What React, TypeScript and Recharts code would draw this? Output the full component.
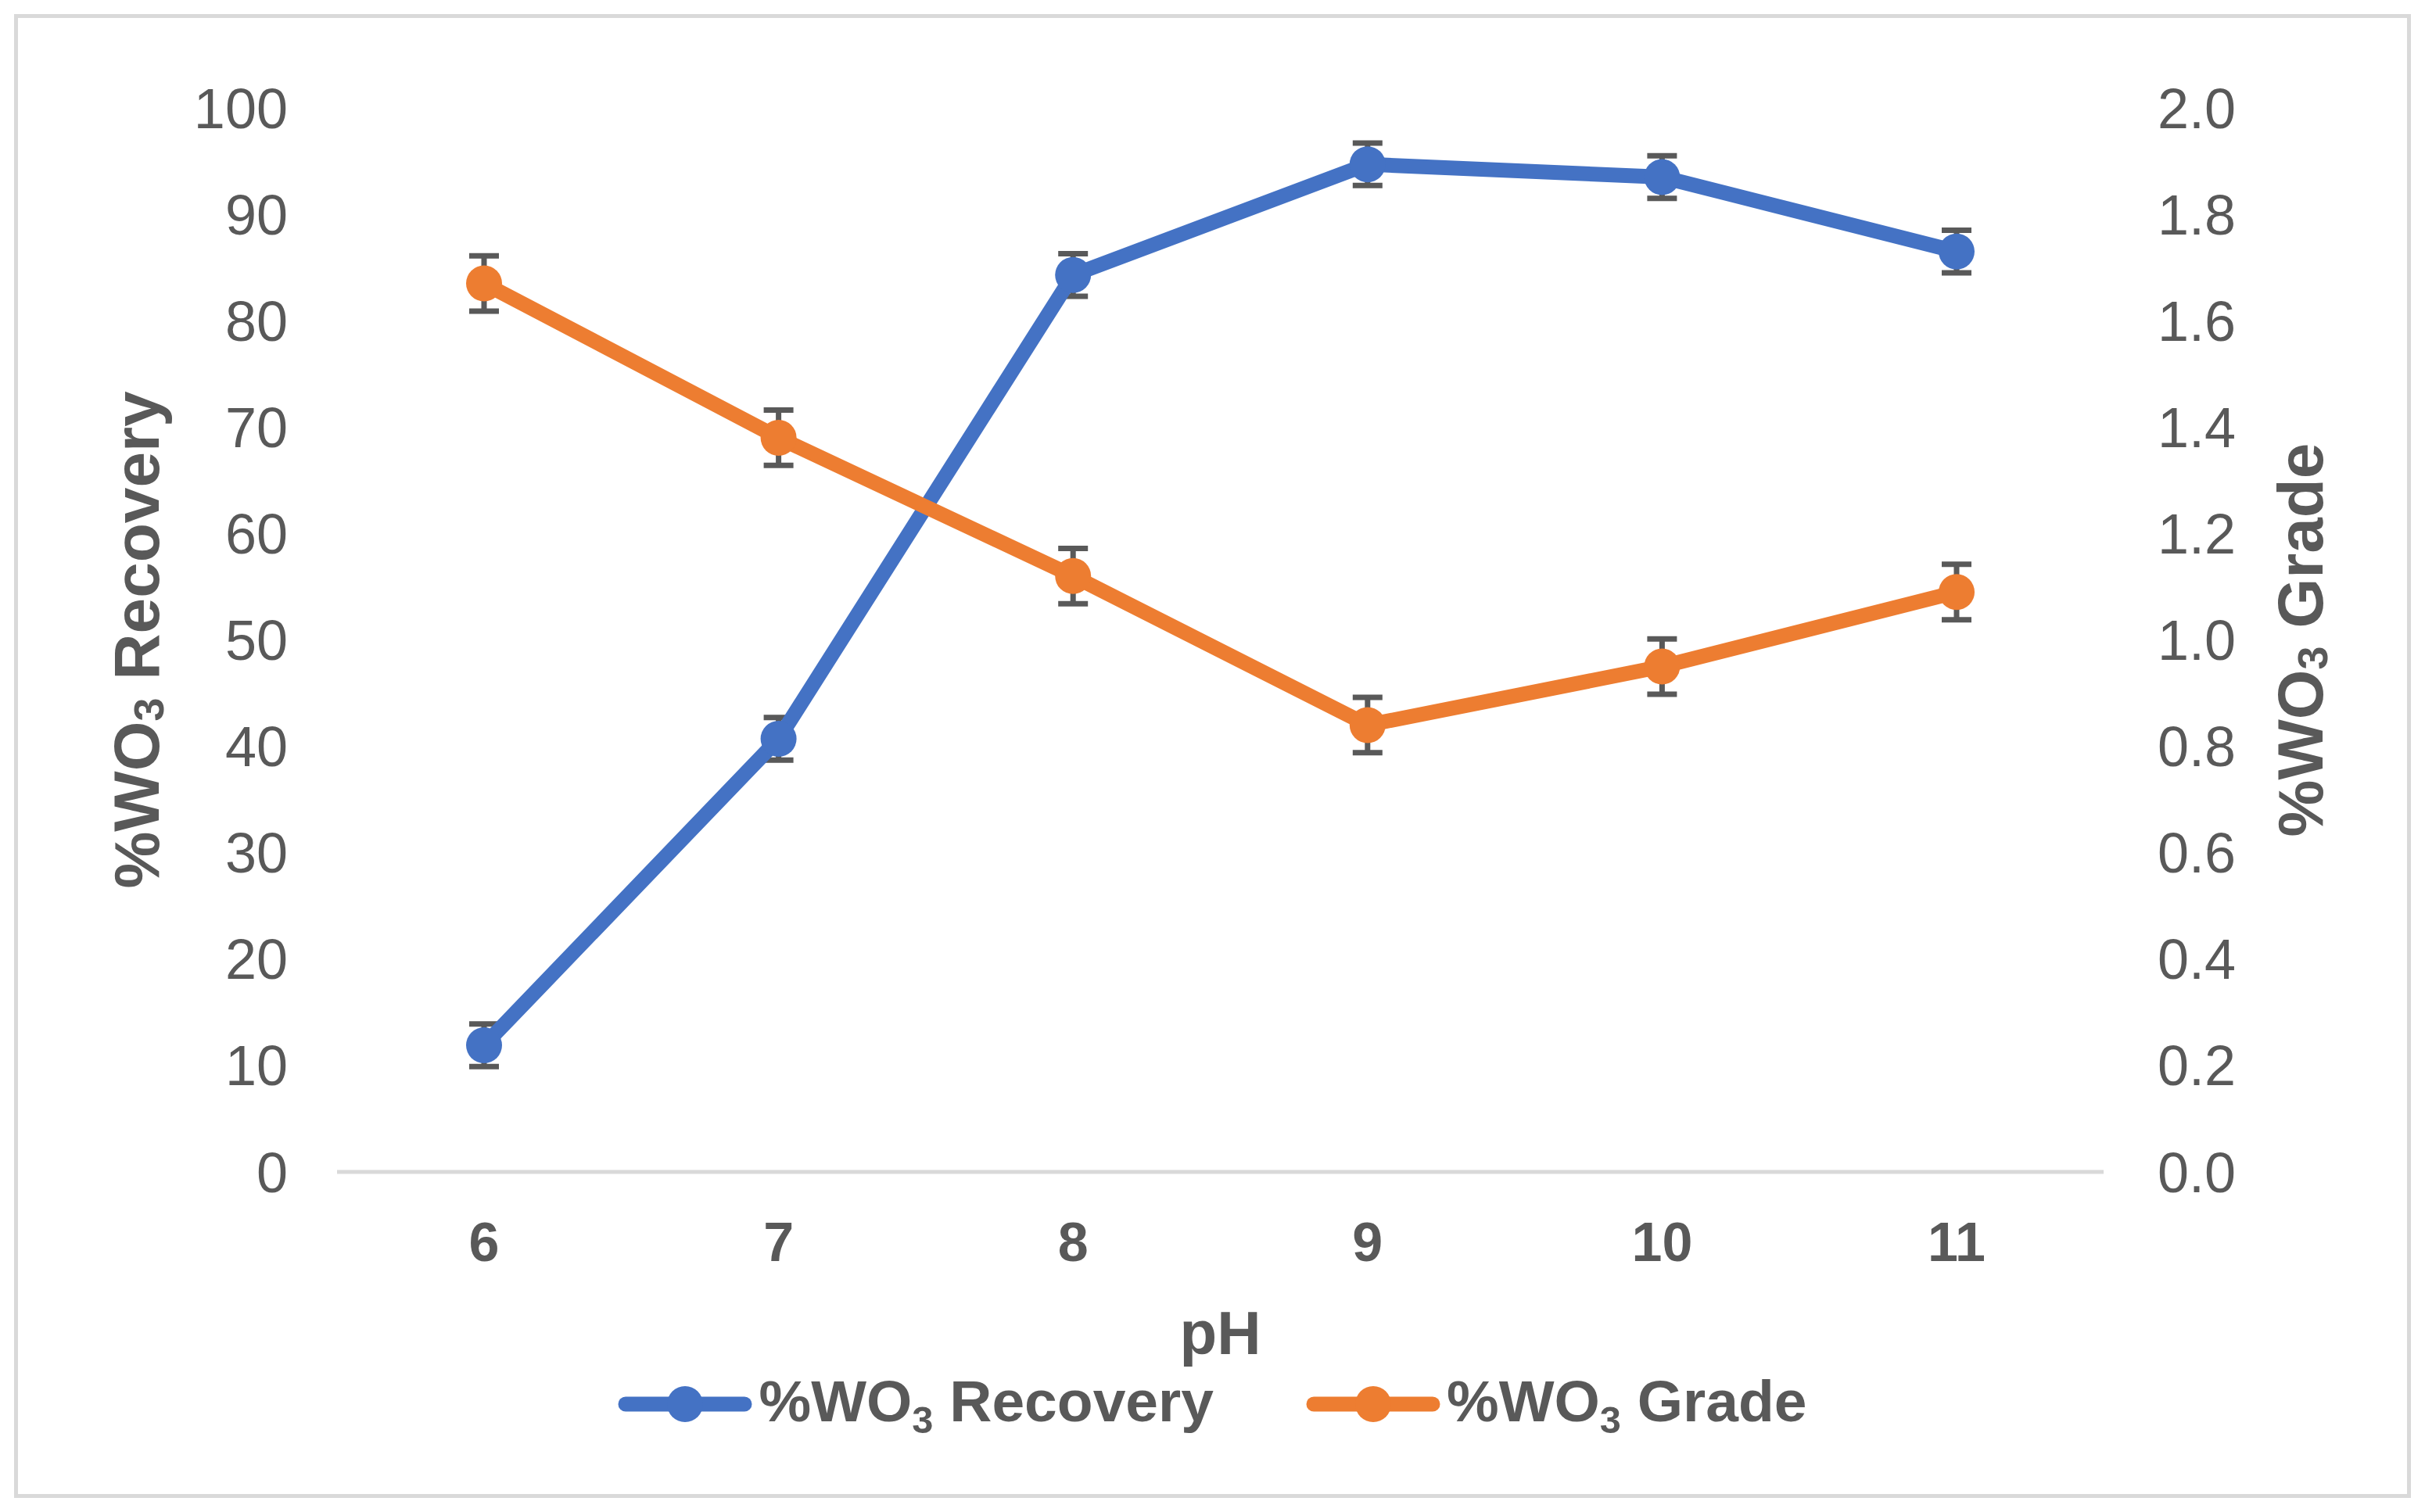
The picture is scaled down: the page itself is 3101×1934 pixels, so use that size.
import React from 'react';
import { LineChart, Line, XAxis, YAxis, ErrorBar, Legend, Label } from 'recharts';

const phLabels = ['6', '7', '8', '9', '10', '11'];
const recoveryValues = [11.9, 40.7, 84.3, 94.7, 93.5, 86.5];
const recoveryErrors = [2, 2, 2, 2, 2, 2];
const gradeValues = [1.67, 1.38, 1.12, 0.84, 0.95, 1.09];
const gradeErrors = [0.052, 0.052, 0.052, 0.052, 0.052, 0.052];
const recoveryTicks = [0, 10, 20, 30, 40, 50, 60, 70, 80, 90, 100];
const gradeTicks = [0, 0.2, 0.4, 0.6, 0.8, 1.0, 1.2, 1.4, 1.6, 1.8, 2.0];
const seriesNames = ['%WO3 Recovery', '%WO3 Grade'];

const data = phLabels.map((ph, i) => ({
  ph,
  recovery: recoveryValues[i],
  recoveryErr: recoveryErrors[i],
  grade: gradeValues[i],
  gradeErr: gradeErrors[i],
}));

const W = 3101;
const H = 1934;
const FONT = '"Liberation Sans", Arial, sans-serif';
const TEXT = '#595959';
const BLUE = '#4472C4';
const ORANGE = '#ED7D31';
const BORDER = '#D9D9D9';

// "%WO3 Recovery" -> %WO + subscript 3 + rest
function splitName(name: string) {
  const idx = name.indexOf('WO3');
  return { head: name.slice(0, idx + 2), tail: name.slice(idx + 3) };
}

function rotatedTitle(name: string, offsetX: number) {
  return (props: any) => {
    const vb = props.viewBox || {};
    const cx = vb.x + offsetX;
    const cy = vb.y + vb.height / 2;
    const { head, tail } = splitName(name);
    return (
      <text
        x={cx}
        y={cy}
        transform={`rotate(-90 ${cx} ${cy})`}
        textAnchor="middle"
        dominantBaseline="central"
        fontFamily={FONT}
        fontSize={82}
        fontWeight="bold"
        fill={TEXT}
      >
        {head}
        <tspan fontSize={54} dy={16}>3</tspan>
        <tspan dy={-16}>{tail}</tspan>
      </text>
    );
  };
}

const PhTitle = (props: any) => {
  const vb = props.viewBox || {};
  return (
    <text
      x={vb.x + vb.width / 2}
      y={vb.y + 206}
      textAnchor="middle"
      dominantBaseline="central"
      fontFamily={FONT}
      fontSize={78}
      fontWeight="bold"
      fill={TEXT}
    >
      pH
    </text>
  );
};

const renderLegend = (props: any) => {
  // keep the series order, the legend sorts by name otherwise
  const items = [...(props.payload || [])].sort(
    (a: any, b: any) => seriesNames.indexOf(a.value) - seriesNames.indexOf(b.value)
  );
  return (
    <div
      style={{
        display: 'flex',
        justifyContent: 'center',
        alignItems: 'center',
        height: 120,
        gap: 118,
        fontFamily: FONT,
        fontSize: 75,
        fontWeight: 'bold',
        color: TEXT,
      }}
    >
      {items.map((entry: any) => {
        const { head, tail } = splitName(String(entry.value));
        return (
          <div key={entry.value} style={{ display: 'flex', alignItems: 'center' }}>
            <svg width={172} height={52}>
              <line x1={10} y1={26} x2={162} y2={26} stroke={entry.color} strokeWidth={19} strokeLinecap="round" />
              <circle cx={86} cy={26} r={23} fill={entry.color} />
            </svg>
            <span style={{ marginLeft: 8, whiteSpace: 'nowrap' }}>
              {head}
              <sub style={{ fontSize: '0.65em', verticalAlign: '-0.3em' }}>3</sub>
              {tail}
            </span>
          </div>
        );
      })}
    </div>
  );
};

export default function App() {
  return (
    <div style={{ position: 'absolute', left: 0, top: 0, width: W, height: H, background: '#fff' }}>
      <div
        style={{
          position: 'absolute',
          left: 18,
          top: 18,
          width: W - 36,
          height: H - 36,
          border: `5px solid ${BORDER}`,
          boxSizing: 'border-box',
        }}
      />
      <div style={{ position: 'absolute', left: 0, top: 0 }}>
        <LineChart width={W} height={H} data={data} margin={{ top: 138, right: 0, left: 0, bottom: 78 }}>
          <XAxis
            dataKey="ph"
            height={237}
            padding={{ left: 188, right: 188 }}
            axisLine={{ stroke: BORDER, strokeWidth: 5 }}
            tickLine={false}
            tickMargin={58}
            tick={{ fontSize: 70, fontWeight: 'bold', fill: TEXT, fontFamily: FONT }}
          >
            <Label content={PhTitle} />
          </XAxis>
          <YAxis
            yAxisId="left"
            domain={[0, 100]}
            ticks={recoveryTicks}
            width={431}
            axisLine={false}
            tickLine={false}
            tickMargin={57}
            tick={{ fontSize: 72, fill: TEXT, fontFamily: FONT }}
          >
            <Label content={rotatedTitle(seriesNames[0], 174)} />
          </YAxis>
          <YAxis
            yAxisId="right"
            orientation="right"
            domain={[0, 2]}
            ticks={gradeTicks}
            width={411}
            axisLine={false}
            tickLine={false}
            tickMargin={63}
            tickFormatter={(v: number) => v.toFixed(1)}
            tick={{ fontSize: 72, fill: TEXT, fontFamily: FONT }}
          >
            <Label content={rotatedTitle(seriesNames[1], 251)} />
          </YAxis>
          <Legend verticalAlign="bottom" align="center" content={renderLegend} />
          <Line
            yAxisId="left"
            type="linear"
            dataKey="recovery"
            name={seriesNames[0]}
            stroke={BLUE}
            strokeWidth={19}
            dot={{ r: 23, fill: BLUE, stroke: BLUE, strokeWidth: 0 }}
            activeDot={false}
            isAnimationActive={false}
          >
            <ErrorBar dataKey="recoveryErr" direction="y" width={19} stroke={TEXT} strokeWidth={7} />
          </Line>
          <Line
            yAxisId="right"
            type="linear"
            dataKey="grade"
            name={seriesNames[1]}
            stroke={ORANGE}
            strokeWidth={19}
            dot={{ r: 23, fill: ORANGE, stroke: ORANGE, strokeWidth: 0 }}
            activeDot={false}
            isAnimationActive={false}
          >
            <ErrorBar dataKey="gradeErr" direction="y" width={19} stroke={TEXT} strokeWidth={7} />
          </Line>
        </LineChart>
      </div>
    </div>
  );
}
